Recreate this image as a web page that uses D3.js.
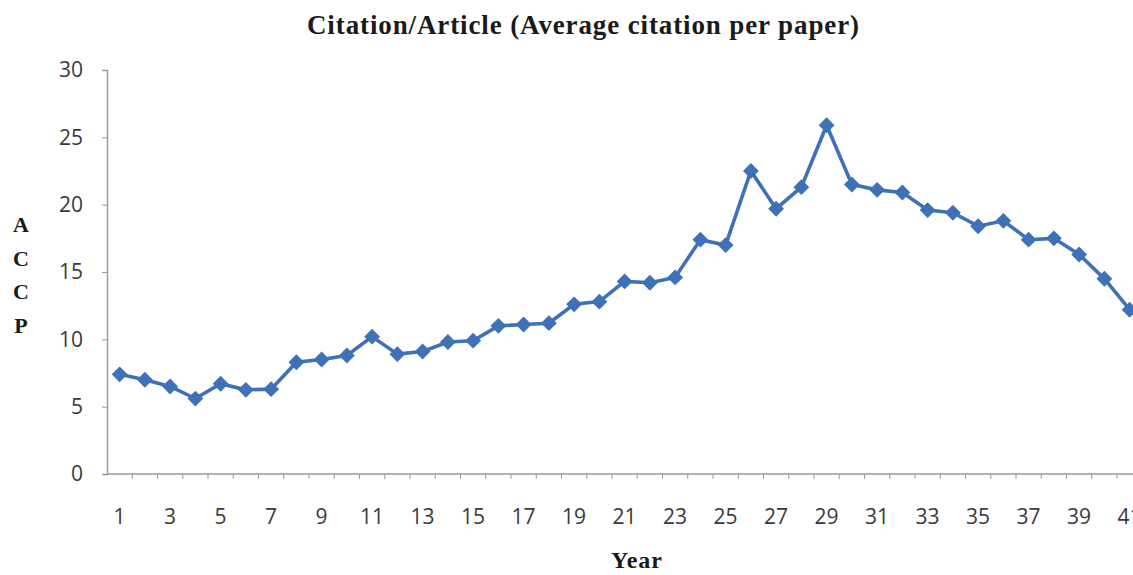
<!DOCTYPE html>
<html>
<head>
<meta charset="utf-8">
<script src="https://cdn.jsdelivr.net/npm/d3@7"></script>
<style>
  body { margin: 0; background: #fff; }
  .tick text { font-family: "Open Sans", "Liberation Sans", sans-serif; font-size: 21px; fill: #3a3a3a; }
  .serif { font-family: "Liberation Serif", "DejaVu Serif", serif; font-weight: bold; fill: #1a1a1a; }
</style>
</head>
<body>
<div id="chart"></div>
<script>
// years 1..41 and ACCP values
var years = d3.range(1, 42);
var accp = [7.4, 7.0, 6.5, 5.6, 6.7, 6.25, 6.3, 8.3, 8.5, 8.8,
            10.2, 8.9, 9.1, 9.8, 9.9, 11.0, 11.1, 11.2, 12.6, 12.8,
            14.3, 14.2, 14.6, 17.4, 17.0, 22.5, 19.7, 21.3, 25.9, 21.5,
            21.1, 20.9, 19.6, 19.4, 18.4, 18.8, 17.4, 17.5, 16.3, 14.5, 12.2];
var yTicks = [0, 5, 10, 15, 20, 25, 30];
var xLabels = years.filter(function(d) { return d % 2 === 1; });

var W = 1133, H = 575;
var margin = {top: 70, left: 107, bottom: 101};
var bandW = 25.25;
var plotW = bandW * years.length;
var plotH = H - margin.top - margin.bottom;

var svg = d3.select("#chart").append("svg")
    .attr("width", W)
    .attr("height", H);

var g = svg.append("g")
    .attr("transform", "translate(" + margin.left + "," + margin.top + ")");

var x = d3.scaleBand()
    .domain(years)
    .range([0, plotW]);

var y = d3.scaleLinear()
    .domain([0, 30])
    .range([plotH, 0]);

// y axis
var yAxis = g.append("g")
    .call(d3.axisLeft(y).tickValues(yTicks).tickSize(5).tickPadding(19));
yAxis.select(".domain").attr("stroke", "#999").attr("stroke-width", 1.4);
yAxis.selectAll(".tick line").attr("stroke", "#999");

// x axis: ticks sit between categories, labels on odd years
var xAxis = g.append("g")
    .attr("transform", "translate(0," + plotH + ")");
xAxis.append("line")
    .attr("x1", 0).attr("x2", plotW)
    .attr("stroke", "#999").attr("stroke-width", 1.4);
xAxis.selectAll(".xt")
    .data(years)
    .enter().append("line")
    .attr("class", "xt")
    .attr("x1", function(d) { return x(d) + x.bandwidth(); })
    .attr("x2", function(d) { return x(d) + x.bandwidth(); })
    .attr("y1", 0).attr("y2", 5)
    .attr("stroke", "#999");
xAxis.selectAll(".xl")
    .data(xLabels)
    .enter().append("g")
    .attr("class", "tick")
    .append("text")
    .attr("x", function(d) { return x(d) + x.bandwidth() / 2; })
    .attr("y", 50)
    .attr("text-anchor", "middle")
    .text(function(d) { return d; });

// series
var pts = years.map(function(d, i) { return {year: d, v: accp[i]}; });
var line = d3.line()
    .x(function(d) { return x(d.year) + x.bandwidth() / 2; })
    .y(function(d) { return y(d.v); });

g.append("path")
    .datum(pts)
    .attr("fill", "none")
    .attr("stroke", "#3e71b6")
    .attr("stroke-width", 3.6)
    .attr("d", line);

g.selectAll(".marker")
    .data(pts)
    .enter().append("path")
    .attr("class", "marker")
    .attr("d", d3.symbol().type(d3.symbolDiamond2).size(160))
    .attr("transform", function(d) {
        return "translate(" + (x(d.year) + x.bandwidth() / 2) + "," + y(d.v) + ")";
    })
    .attr("fill", "#3e71b6");

// titles
svg.append("text")
    .attr("class", "serif")
    .attr("x", 583).attr("y", 34)
    .attr("text-anchor", "middle")
    .attr("font-size", 27)
    .attr("textLength", 552)
    .attr("lengthAdjust", "spacing")
    .text("Citation/Article (Average citation per paper)");

svg.append("text")
    .attr("class", "serif")
    .attr("x", 637).attr("y", 568)
    .attr("text-anchor", "middle")
    .attr("font-size", 24)
    .attr("letter-spacing", 1)
    .text("Year");

svg.selectAll(".ylab")
    .data(["A", "C", "C", "P"])
    .enter().append("text")
    .attr("class", "serif")
    .attr("x", 21)
    .attr("y", function(d, i) { return 232 + i * 33.5; })
    .attr("text-anchor", "middle")
    .attr("font-size", 22)
    .text(function(d) { return d; });
</script>
</body>
</html>
